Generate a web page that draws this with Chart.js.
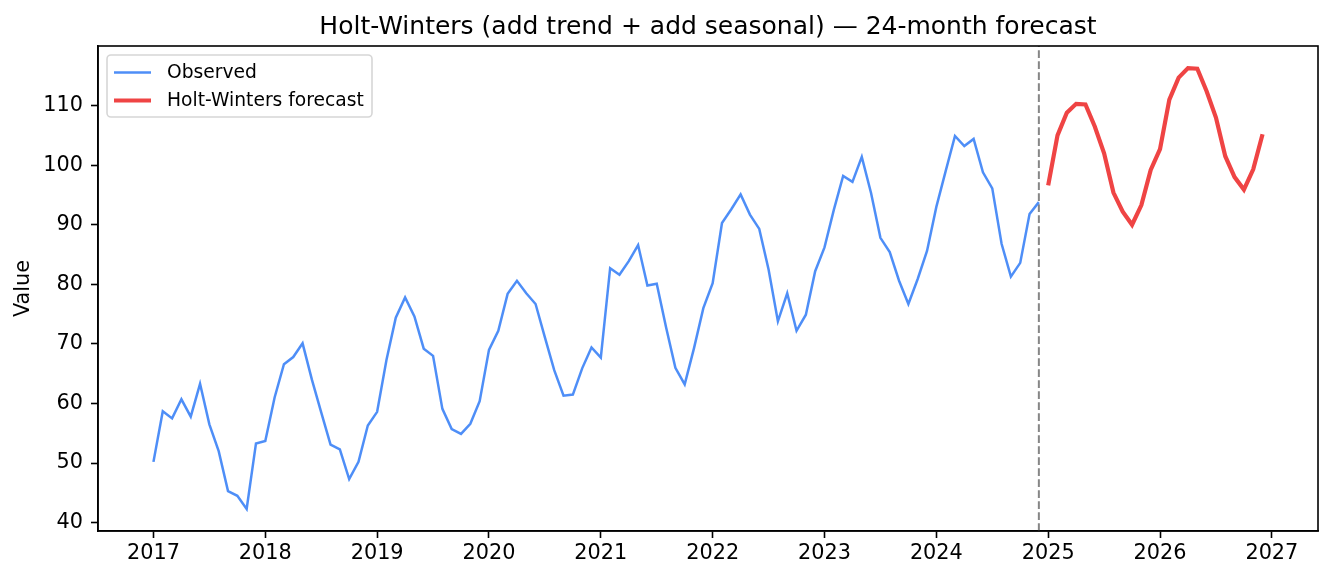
<!DOCTYPE html>
<html>
<head>
<meta charset="utf-8">
<script src="https://cdn.jsdelivr.net/npm/chart.js@4.4.1/dist/chart.umd.min.js"></script>
<style>
  body { margin: 0; background: #fff; }
  canvas { display: block; }
</style>
</head>
<body>
<canvas id="hwChart" width="1334" height="582"></canvas>
<script>
// Datos mensuales: observado ene-2017 .. dic-2024, pronóstico ene-2025 .. dic-2026
const startYear = 2017;
const forecastStartYear = 2025;

const observed = [
  50.2, 58.7, 57.5, 60.7, 57.8, 63.3, 56.5, 52.0, 45.3, 44.5, 42.3, 53.3,
  53.7, 61.0, 66.6, 67.8, 70.1, 64.0, 58.5, 53.1, 52.3, 47.3, 50.2, 56.3,
  58.6, 67.3, 74.4, 77.8, 74.6, 69.2, 68.0, 59.1, 55.7, 54.9, 56.6, 60.4,
  69.0, 72.2, 78.4, 80.6, 78.5, 76.7, 71.1, 65.6, 61.3, 61.5, 65.9, 69.4,
  67.7, 82.7, 81.6, 83.9, 86.6, 79.8, 80.1, 72.8, 66.0, 63.2, 69.3, 76.0,
  80.2, 90.3, 92.6, 95.1, 91.7, 89.3, 82.5, 73.8, 78.5, 72.2, 74.9, 82.2,
  86.2, 92.5, 98.2, 97.2, 101.4, 95.3, 87.8, 85.4, 80.6, 76.7, 80.9, 85.6,
  93.0, 99.0, 104.9, 103.2, 104.4, 98.8, 96.1, 86.8, 81.3, 83.6, 91.8, 93.8
];

const forecast = [
  96.6, 105.0, 108.8, 110.3, 110.2, 106.5, 102.0, 95.4, 92.2, 90.0, 93.3, 99.2,
  102.7, 111.0, 114.7, 116.3, 116.2, 112.4, 108.0, 101.5, 98.0, 95.9, 99.3, 105.2
];

const yearTicks = [2017, 2018, 2019, 2020, 2021, 2022, 2023, 2024, 2025, 2026, 2027];
const valueTicks = [40, 50, 60, 70, 80, 90, 100, 110];
const seriesLabels = ["Observed", "Holt-Winters forecast"];
const chartTitle = "Holt-Winters (add trend + add seasonal) — 24-month forecast";
const yTitle = "Value";

const colorObs = "rgba(59, 130, 246, 0.9)";
const colorFc = "#ef4444";

const toPoints = (vals, y0) => vals.map((v, i) => ({ x: y0 + i / 12, y: v }));
const obsPoints = toPoints(observed, startYear);
const fcPoints = toPoints(forecast, forecastStartYear);
const cutX = obsPoints[obsPoints.length - 1].x;

// márgenes tipo matplotlib (5%)
const allX = obsPoints.concat(fcPoints).map(p => p.x);
const allY = observed.concat(forecast);
const xLo = Math.min(...allX), xHi = Math.max(...allX);
const yLo = Math.min(...allY), yHi = Math.max(...allY);
const xMin = xLo - (xHi - xLo) * 0.05, xMax = xHi + (xHi - xLo) * 0.05;
const yMin = yLo - (yHi - yLo) * 0.05, yMax = yHi + (yHi - yLo) * 0.05;

Chart.defaults.font.family = "'DejaVu Sans', sans-serif";
Chart.defaults.color = "#000";

// Marco, título y leyenda al estilo matplotlib
const decor = {
  id: "decor",
  afterDraw(chart) {
    const { ctx, chartArea: a } = chart;
    ctx.save();
    ctx.strokeStyle = "#000";
    ctx.lineWidth = 1.6;
    ctx.strokeRect(a.left, a.top, a.right - a.left, a.bottom - a.top);

    ctx.fillStyle = "#000";
    ctx.font = "25px 'DejaVu Sans'";
    ctx.textAlign = "center";
    ctx.textBaseline = "middle";
    ctx.fillText(chartTitle, (a.left + a.right) / 2, 27);

    // leyenda
    const lx = a.left + 9, ly = a.top + 9, lw = 265, lh = 62, r = 4;
    ctx.beginPath();
    ctx.roundRect(lx, ly, lw, lh, r);
    ctx.fillStyle = "rgba(255,255,255,0.8)";
    ctx.fill();
    ctx.strokeStyle = "rgba(204,204,204,0.8)";
    ctx.lineWidth = 1.6;
    ctx.stroke();

    const rows = [
      { label: seriesLabels[0], color: colorObs, width: 2.5 },
      { label: seriesLabels[1], color: colorFc, width: 4.2 }
    ];
    ctx.font = "18.7px 'DejaVu Sans'";
    ctx.textAlign = "left";
    rows.forEach((row, i) => {
      const yy = ly + 17.5 + i * 28;
      ctx.beginPath();
      ctx.moveTo(lx + 7, yy);
      ctx.lineTo(lx + 44, yy);
      ctx.strokeStyle = row.color;
      ctx.lineWidth = row.width;
      ctx.stroke();
      ctx.fillStyle = "#000";
      ctx.fillText(row.label, lx + 60, yy + 0.5);
    });
    ctx.restore();
  }
};

new Chart(document.getElementById("hwChart"), {
  type: "line",
  data: {
    datasets: [
      {
        label: seriesLabels[0],
        data: obsPoints,
        borderColor: colorObs,
        borderWidth: 2.5,
        pointRadius: 0,
        tension: 0
      },
      {
        label: seriesLabels[1],
        data: fcPoints,
        borderColor: colorFc,
        borderWidth: 4.2,
        pointRadius: 0,
        tension: 0
      },
      {
        label: "cut",
        data: [{ x: cutX, y: yMin }, { x: cutX, y: yMax }],
        borderColor: "rgba(128,128,128,0.95)",
        borderWidth: 2,
        borderDash: [7.7, 3.3],
        pointRadius: 0
      }
    ]
  },
  options: {
    responsive: false,
    animation: false,
    devicePixelRatio: 1,
    layout: { padding: { top: 46, right: 16, left: 0, bottom: 0 } },
    plugins: {
      legend: { display: false },
      title: { display: false },
      tooltip: { enabled: false }
    },
    scales: {
      x: {
        type: "linear",
        min: xMin,
        max: xMax,
        afterBuildTicks: s => { s.ticks = yearTicks.map(v => ({ value: v })); },
        afterFit: s => { s.height = 51; },
        ticks: {
          callback: v => String(v),
          font: { size: 20.8 },
          padding: 3,
          maxRotation: 0,
          autoSkip: false
        },
        grid: { drawOnChartArea: false, tickLength: 7, tickWidth: 1.6, tickColor: "#000" },
        border: { color: "#000", width: 1.6 }
      },
      y: {
        min: yMin,
        max: yMax,
        afterBuildTicks: s => { s.ticks = valueTicks.map(v => ({ value: v })); },
        afterFit: s => { s.width = 98; },
        ticks: {
          callback: v => String(v),
          font: { size: 20.8 },
          padding: 8
        },
        title: {
          display: true,
          text: yTitle,
          font: { size: 20.8 },
          padding: { top: 11, bottom: 0 }
        },
        grid: { drawOnChartArea: false, tickLength: 7, tickWidth: 1.6, tickColor: "#000" },
        border: { color: "#000", width: 1.6 }
      }
    }
  },
  plugins: [decor]
});
</script>
</body>
</html>
